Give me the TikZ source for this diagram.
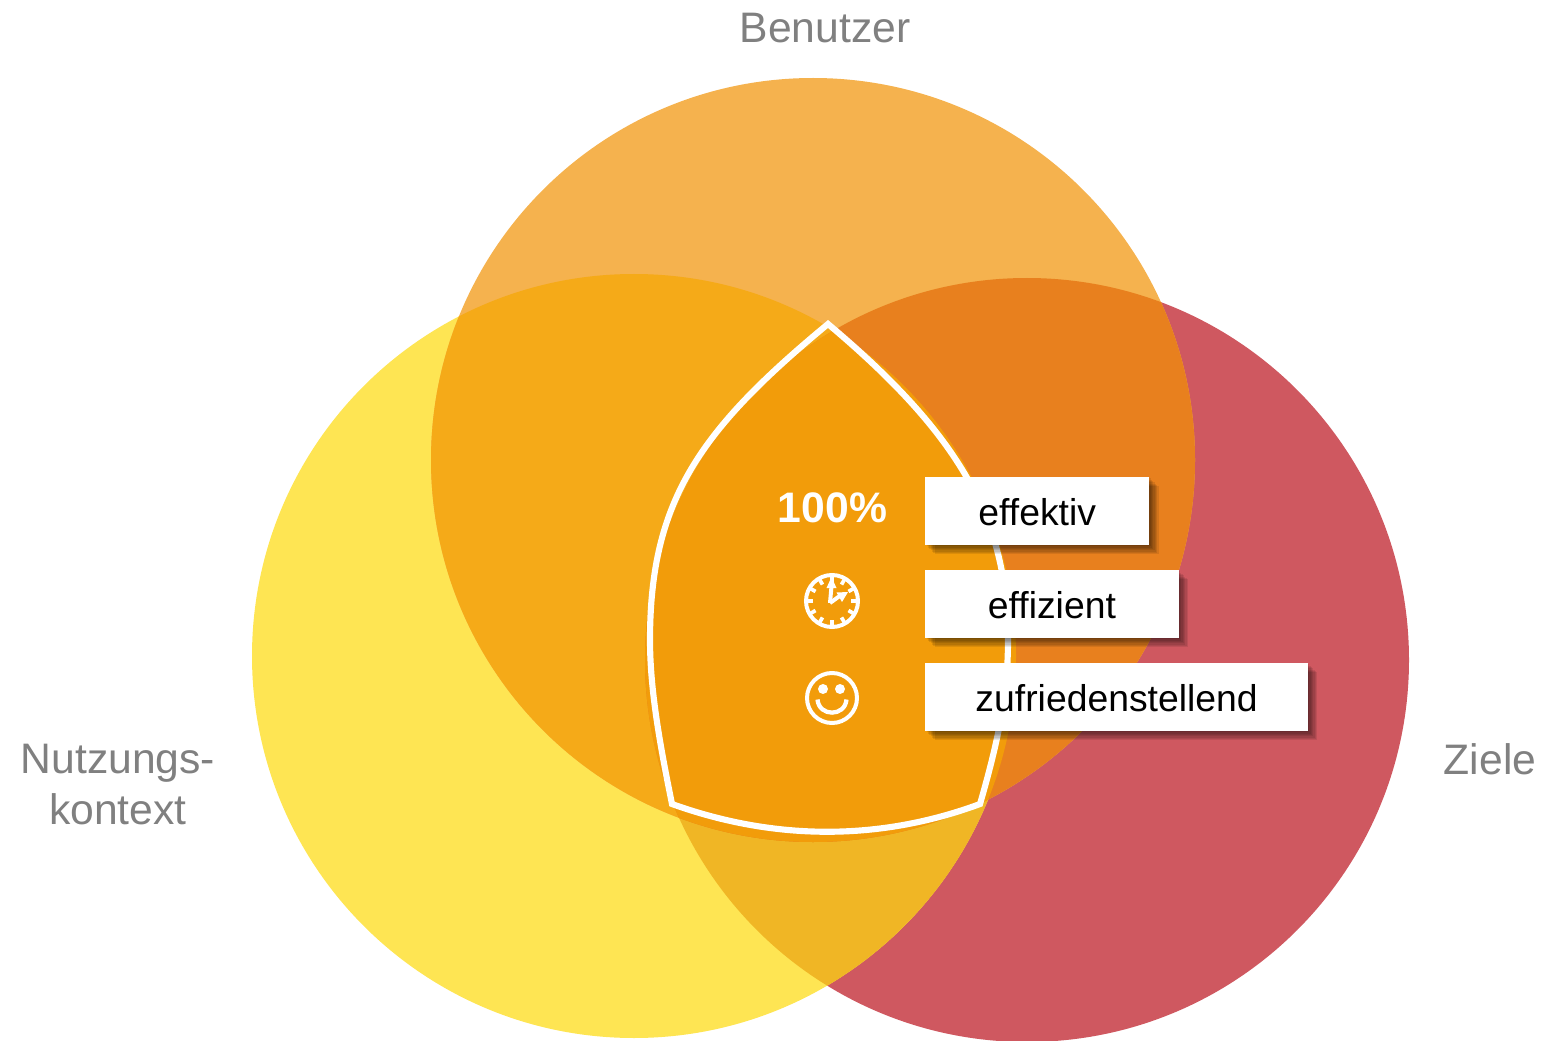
\documentclass[tikz,border=0pt]{standalone}
\usepackage{fontspec}
\setmainfont{Liberation Sans}
\usetikzlibrary{shadows}
\definecolor{benutzercol}{HTML}{F5B24E}
\definecolor{kontextcol}{HTML}{FEE553}
\definecolor{zielecol}{HTML}{CF5860}
\definecolor{benkontext}{HTML}{F5AA18}
\definecolor{benziele}{HTML}{E8801E}
\definecolor{kontextziele}{HTML}{F0B625}
\definecolor{mittecol}{HTML}{F29C0A}
\definecolor{labelgrey}{HTML}{808080}
\newcommand{\benutzerkreis}{(813,460) circle [radius=382]}
\newcommand{\kontextkreis}{(634,656) circle [radius=382]}
\newcommand{\zielekreis}{(1027,660) circle [radius=382]}
\newcommand{\wordtext}[1]{\raisebox{-1pt}[\height][\depth]{#1}}
\tikzset{
	title/.style={text=labelgrey, align=center, font=\fontsize{32}{38}\selectfont},
	softshadow/.style={drop shadow={shadow xshift=#1, shadow yshift=-#1, fill=black, opacity=.09}},
	wordbox/.style={fill=white, anchor=west, minimum height=51pt, inner sep=0pt, text=black,
		font=\fontsize{28}{32}\selectfont,
		softshadow=1pt, softshadow=2pt, softshadow=3pt, softshadow=4pt, softshadow=5pt, softshadow=6pt, softshadow=7pt},
	icon/.style={draw=white, line width=3pt}
}
\begin{document}
\begin{tikzpicture}[x=0.75pt, y=-0.75pt]
	\useasboundingbox (0,0) rectangle (1546,1041);

	\fill [zielecol] \zielekreis;
	\fill [kontextcol] \kontextkreis;
	\fill [benutzercol] \benutzerkreis;
	\begin{scope}
		\clip \kontextkreis;
		\fill [kontextziele] \zielekreis;
		\fill [benkontext] \benutzerkreis;
	\end{scope}
	\begin{scope}
		\clip \zielekreis;
		\fill [benziele] \benutzerkreis;
		\clip \kontextkreis;
		\fill [mittecol] \benutzerkreis;
	\end{scope}

	\draw [white, line width=4.6pt, line join=miter] (828,324) .. controls (700,430) and (650,500) .. (650,640)
		.. controls (650,690) and (660,745) .. (672,804)
		.. controls (775,841) and (880,841) .. (980,804)
		.. controls (1000,735) and (1008,690) .. (1008,640)
		.. controls (1008,520) and (960,435) .. (828,324) -- cycle;

	\node [title] (benutzer) at (825,28) {Benutzer};
	\node [title] (kontext) at (118,784.5) {Nutzungs-\\kontext};
	\node [title] (ziele) at (1490,759) {Ziele};

	\node [white, font=\fontsize{32}{37}\bfseries\selectfont] (prozent) at (832.5,507.5) {100\%};
	\node [wordbox, minimum width=168pt] (effektiv) at (925,511) {\wordtext{effektiv}};
	\node [wordbox, minimum width=190pt] (effizient) at (925,604) {\wordtext{effizient}};
	\node [wordbox, minimum width=287pt] (zufrieden) at (925,697) {\wordtext{zufriedenstellend}};

	% clock
	\draw [icon] (832,601) circle [radius=26];
	\foreach \a in {0,30,...,330}
		\draw [white, line width=2.8pt] (832,601) ++(\a:26) -- ++(\a+180:7);
	\draw [white, line width=3pt] (830,603) -- (831.5,586);
	\fill [white] (831.5,577) -- (836.5,588) -- (826.5,588) -- cycle;
	\draw [white, line width=3pt] (830,603) -- (841,595);
	\fill [white] (848,592) -- (842,602) -- (836.5,592.5) -- cycle;

	% smiley
	\draw [icon] (832,698) circle [radius=25];
	\fill [white] (823,689) circle [radius=5] (840,689) circle [radius=5];
	\draw [white, line width=3.2pt] (817.5,699.5) .. controls (819,717) and (845,717) .. (846.5,699.5);
\end{tikzpicture}
\end{document}
